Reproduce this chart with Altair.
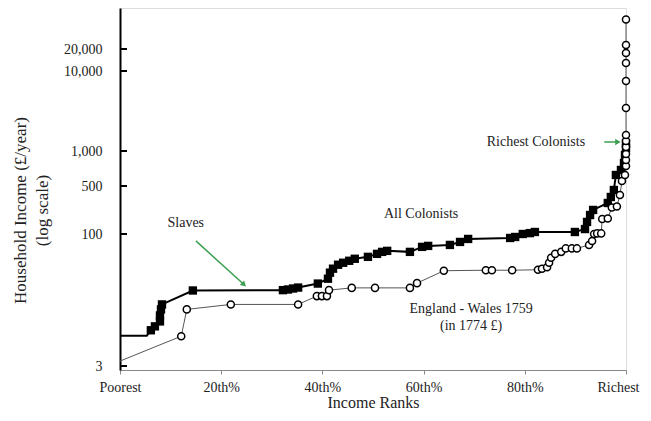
import altair as alt
import pandas as pd

# ---- All Colonists (income rank %, household income in 1774 pounds) ----
col_p = [0, 5.3, 6.1, 6.9, 7.9, 7.9, 8.1, 8.3, 14.4, 32.2, 33.2, 34.2, 35.2, 39.1,
         41.1, 41.5, 42.1, 43.1, 44.1, 45.3, 46.4, 49.0, 50.8, 51.8, 52.8, 57.3,
         59.7, 60.9, 65.2, 67.2, 68.8, 77.1, 78.1, 79.6, 81.0, 82.0, 89.9, 91.9,
         92.3, 92.9, 93.5, 96.4, 97.0, 97.6, 98.0, 99.0, 99.6, 99.8, 100, 100]
col_v = [6.7, 6.7, 7.75, 8.6, 9.8, 11.5, 13.5, 15.4, 22.3, 22.5, 22.9, 23.5, 24.1, 26.8,
         30.5, 35.8, 39.8, 44.2, 46.6, 49.1, 51.8, 54.5, 59.0, 62.2, 63.9, 62.2,
         71.0, 72.9, 74.8, 81.0, 87.7, 90.0, 92.4, 100, 103, 107, 107, 118,
         150, 189, 224, 283, 346, 437, 622, 687, 788, 924, 1090, 1259]
col_mark = [False, False] + [True] * (len(col_p) - 2)

# ---- England - Wales 1759 (in 1774 pounds) ----
eng_p = [0, 12.1, 13.2, 21.9, 35.2, 38.9, 39.9, 40.9, 41.3, 45.8, 50.4, 57.3, 58.7,
         64.0, 72.3, 73.5, 77.5, 82.6, 83.4, 84.4, 84.8, 85.2, 86.0, 87.2, 88.1,
         89.3, 90.3, 92.7, 93.3, 93.7, 94.3, 95.1, 95.3, 96.4, 97.2, 98.2, 98.8,
         99.2, 99.8, 100, 100, 100, 100, 100, 100, 100, 100, 100, 100, 100, 100]
eng_v = [3.42, 6.62, 13.5, 15.4, 15.4, 19.2, 19.2, 19.2, 22.5, 23.9, 23.9, 23.9, 27.1,
         37.7, 38.2, 38.2, 38.2, 38.7, 39.8, 41.4, 46.6, 53.1, 59.0, 62.2, 68.2,
         68.2, 68.2, 74.8, 83.2, 100, 102, 102, 165, 168, 243, 252, 370,
         552, 622, 743, 837, 942, 1122, 1334, 1585, 3447, 7499, 12870, 17630, 22440, 46770]
eng_mark = [False] + [True] * (len(eng_p) - 1)

# ---- axis ticks ----
y_ticks = [3, 100, 500, 1000, 10000, 20000]
x_ticks = [0, 20, 40, 60, 80, 100]

# ---- annotations ----
ann_text = ["Slaves", "All Colonists", "England - Wales 1759", "(in 1774 £)", "Richest Colonists"]
ann_p = [13.0, 59.5, 69.4, 69.4, 82.2]
ann_v = [145, 195, 13.5, 8.61, 1296]

arrow_p = [15.0, 95.7]
arrow_v = [83.2, 1296]
arrow_p2 = [24.5, 98.4]
arrow_v2 = [26.1, 1296]
arrow_angle = [132, 90]

FONT = "Liberation Serif"
TXT = "#222222"

col = pd.DataFrame({"p": col_p, "v": col_v, "m": col_mark, "i": range(len(col_p))})
eng = pd.DataFrame({"p": eng_p, "v": eng_v, "m": eng_mark, "i": range(len(eng_p))})
ticks_df = pd.DataFrame({"v": y_ticks})
ann = pd.DataFrame({"p": ann_p, "v": ann_v, "t": ann_text})
arr = pd.DataFrame({"p": arrow_p, "v": arrow_v, "p2": arrow_p2, "v2": arrow_v2, "a": arrow_angle})

# piecewise log scale matching the original's hand-placed tick positions
yscale = alt.Scale(type="log", domain=[2.7, 3, 100, 500, 1000, 10000, 20000, 65100],
                   range=[362, 358, 226, 178, 143, 63, 41, 0], nice=False, zero=False)
xscale = alt.Scale(domain=[0, 100], nice=False, zero=False)

xaxis = alt.Axis(values=x_ticks, grid=False,
                 labelExpr="datum.value == 0 ? 'Poorest' : datum.value == 100 ? 'Richest' : datum.value + 'th%'",
                 labelOffset={"expr": "datum.value == 100 ? -8 : 0"},
                 domainColor="#888888", domainWidth=1, tickColor="#888888", tickSize=4,
                 labelFont=FONT, labelFontSize=14, labelColor=TXT, labelPadding=6,
                 labelFlush=False, labelOverlap=False,
                 title="Income Ranks", titleFont=FONT, titleFontSize=16, titleFontWeight="normal",
                 titleColor=TXT, titlePadding=0)
yaxis = alt.Axis(values=y_ticks, format=",.0f", grid=False, ticks=False, tickSize=0,
                 domainColor="black", domainWidth=2,
                 labelFont=FONT, labelFontSize=14, labelColor=TXT, labelPadding=18,
                 labelOverlap=False, labelFlush=False,
                 title=["Household Income (£/year)", "(log scale)"], titleFont=FONT,
                 titleFontSize=17, titleFontWeight="normal", titleColor=TXT,
                 titleAngle=-90, titleX=-108, titleY=202, titleBaseline="top",
                 titleAlign="center", titleLineHeight=22)

X = alt.X("p:Q", scale=xscale, axis=xaxis)
Y = alt.Y("v:Q", scale=yscale, axis=yaxis)

col_line = alt.Chart(col).mark_line(color="black", strokeWidth=2).encode(x=X, y=Y, order="i:Q")
col_pts = alt.Chart(col).transform_filter("datum.m").mark_square(
    size=70, color="black", opacity=1).encode(x=X, y=Y)
eng_line = alt.Chart(eng).mark_line(color="#555555", strokeWidth=1).encode(x=X, y=Y, order="i:Q")
eng_pts = alt.Chart(eng).transform_filter("datum.m").mark_point(
    shape="circle", size=50, filled=True, fill="white", stroke="black",
    strokeWidth=1.5, opacity=1).encode(x=X, y=Y)

ytick_rules = alt.Chart(ticks_df).mark_rule(color="black", strokeWidth=2).encode(
    y=Y, x=alt.value(0), x2=alt.value(7))

texts = alt.Chart(ann).mark_text(font=FONT, fontSize=14, color=TXT, align="center",
                                 baseline="middle").encode(x=X, y=Y, text="t:N")

arrow_lines = alt.Chart(arr).mark_rule(color="#3c9f50", strokeWidth=1.5).encode(
    x=X, y=Y, x2="p2:Q", y2="v2:Q")
arrow_heads = alt.Chart(arr).mark_point(shape="triangle-up", filled=True, color="#3c9f50",
                                        size=40, opacity=1).encode(
    x=alt.X("p2:Q", scale=xscale, axis=xaxis), y=alt.Y("v2:Q", scale=yscale, axis=yaxis),
    angle=alt.Angle("a:Q", scale=None))

chart = alt.layer(ytick_rules, col_line, col_pts, eng_line, eng_pts, texts,
                  arrow_lines, arrow_heads).properties(
    width=506, height=362,
    autosize=alt.AutoSizeParams(type="none"),
    padding={"left": 112, "top": 0, "right": 17, "bottom": 41},
).configure_view(stroke=None).configure(background="white")

chart.save("out.html", embed_options={"renderer": "svg", "actions": False})
